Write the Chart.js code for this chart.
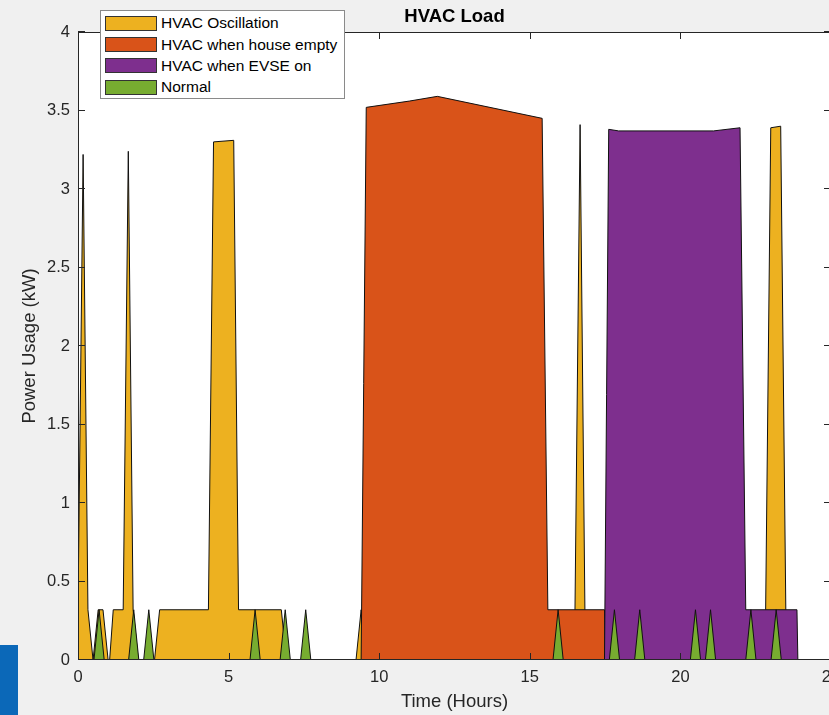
<!DOCTYPE html>
<html>
<head>
<meta charset="utf-8">
<script src="https://cdn.jsdelivr.net/npm/chart.js@4.4.0/dist/chart.umd.min.js"></script>
<style>
  body { margin: 0; background: #f0f0f0; overflow: hidden; }
  #wrap { position: relative; width: 840px; height: 715px; }
  #legend {
    position: absolute; left: 100px; top: 10px; width: 245px; height: 89px;
    box-sizing: border-box; padding-top: 1.7px;
    background: #fff; border: 1px solid #8a8a8a;
    font: 15.5px "Liberation Sans", Arial, Helvetica, sans-serif; color: #000;
  }
  #legend .row { height: 21.3px; display: flex; align-items: center; white-space: nowrap; }
  #legend .sw { width: 52px; height: 15px; margin: 0 4px 0 4px; border: 1px solid #333; box-sizing: border-box; }
  #blue { position: absolute; left: 0; top: 645px; width: 18px; height: 70px; background: #0b68b8; }
</style>
</head>
<body>
<div id="wrap">
  <canvas id="c" width="840" height="715"></canvas>
  <div id="legend"></div>
  <div id="blue"></div>
</div>
<script>
// HVAC load, hours vs kW
const yellowX = [0, 0.17, 0.33, 0.5, 0.67, 0.83, 1.0, 1.05, 1.17, 1.5, 1.67, 1.83, 2.0, 2.54, 2.71, 4.33, 4.5, 5.17, 5.33, 6.75, 6.92, 9.23, 9.4, 9.57, 16.33, 16.5, 16.67, 16.83, 17.0, 22.67, 22.83, 23.0, 23.33, 23.5, 23.67, 24];
const yellowY = [0.32, 3.22, 0.32, 0, 0.32, 0.32, 0, 0, 0.32, 0.32, 3.24, 0.32, 0, 0, 0.32, 0.32, 3.30, 3.31, 0.32, 0.32, 0, 0, 0.32, 0, 0, 0.32, 3.41, 0.32, 0, 0, 0.32, 3.39, 3.40, 0.32, 0, 0];

const orangeX = [0, 9.40, 9.57, 11.0, 11.93, 15.41, 15.6, 17.48, 17.5, 24];
const orangeY = [0, 0, 3.52, 3.56, 3.59, 3.45, 0.32, 0.32, 0, 0];

const purpleX = [0, 17.48, 17.62, 17.95, 21.1, 21.98, 22.17, 23.87, 23.9, 24];
const purpleY = [0, 0, 3.38, 3.37, 3.37, 3.39, 0.32, 0.32, 0, 0];

const normalX = [0, 0.53, 0.70, 0.87, 1.68, 1.85, 2.02, 2.18, 2.35, 2.52, 5.71, 5.88, 6.05, 6.71, 6.88, 7.05, 7.39, 7.56, 7.73,
  15.77, 15.94, 16.11, 17.64, 17.81, 17.98, 18.48, 18.65, 18.82, 20.33, 20.50, 20.67, 20.83, 21.00, 21.17,
  22.17, 22.34, 22.51, 23.01, 23.18, 23.35, 24];
const normalY = [0, 0, 0.32, 0, 0, 0.32, 0, 0, 0.32, 0, 0, 0.32, 0, 0, 0.32, 0, 0, 0.32, 0,
  0, 0.32, 0, 0, 0.32, 0, 0, 0.32, 0, 0, 0.32, 0, 0, 0.32, 0,
  0, 0.32, 0, 0, 0.32, 0, 0];

const seriesNames = ['HVAC Oscillation', 'HVAC when house empty', 'HVAC when EVSE on', 'Normal'];
const seriesColors = ['#EDB120', '#D95319', '#7E2F8E', '#77AC30'];

const xTickValues = [0, 5, 10, 15, 20, 25];
const xTickLabels = ['0', '5', '10', '15', '20', '25'];
const yTickValues = [0, 0.5, 1, 1.5, 2, 2.5, 3, 3.5, 4];
const yTickLabels = ['0', '0.5', '1', '1.5', '2', '2.5', '3', '3.5', '4'];

function pts(xs, ys) {
    return xs.map((x, i) => ({x: x, y: ys[i]}));
}

Chart.defaults.font.family = '"Liberation Sans", Arial, Helvetica, sans-serif';

const axesLook = {
    id: 'axesLook',
    beforeDraw(chart) {
        const {ctx, chartArea: a} = chart;
        ctx.save();
        ctx.fillStyle = '#fff';
        ctx.fillRect(a.left, a.top, a.right - a.left, a.bottom - a.top);
        ctx.restore();
    },
    afterDatasetsDraw(chart) {
        const {ctx, chartArea: a, scales} = chart;
        ctx.save();
        ctx.strokeStyle = '#262626';
        ctx.lineWidth = 1;
        ctx.beginPath();
        xTickValues.forEach(v => {
            const px = Math.round(scales.x.getPixelForValue(v)) + 0.5;
            ctx.moveTo(px, a.bottom); ctx.lineTo(px, a.bottom - 7);
            ctx.moveTo(px, a.top); ctx.lineTo(px, a.top + 7);
        });
        yTickValues.forEach(v => {
            const py = Math.round(scales.y.getPixelForValue(v)) - 0.5;
            ctx.moveTo(a.left, py); ctx.lineTo(a.left + 7, py);
            ctx.moveTo(a.right, py); ctx.lineTo(a.right - 7, py);
        });
        ctx.stroke();
        ctx.strokeRect(a.left + 0.5, a.top + 0.5, a.right - a.left - 1, a.bottom - a.top - 1);
        // title
        ctx.fillStyle = '#000';
        ctx.font = 'bold 18.5px "Liberation Sans", Arial, Helvetica, sans-serif';
        ctx.textAlign = 'center';
        ctx.textBaseline = 'middle';
        ctx.fillText('HVAC Load', (a.left + a.right) / 2, 16.5);
        ctx.restore();
    }
};

const xs = [yellowX, orangeX, purpleX, normalX];
const ys = [yellowY, orangeY, purpleY, normalY];

const chart = new Chart(document.getElementById('c'), {
    type: 'line',
    data: {
        datasets: seriesNames.map((name, i) => ({
            label: name,
            data: pts(xs[i], ys[i]),
            backgroundColor: seriesColors[i],
            borderColor: '#111',
            borderWidth: 1,
            pointRadius: 0,
            tension: 0,
            fill: 'origin',
            order: 4 - i
        }))
    },
    options: {
        responsive: false,
        animation: false,
        events: [],
        layout: { padding: { left: 0, right: 9, top: 32, bottom: 0 } },
        scales: {
            x: {
                type: 'linear',
                min: 0,
                max: 25,
                grid: { display: false, drawTicks: false },
                border: { display: false },
                afterBuildTicks: s => { s.ticks = xTickValues.map(v => ({value: v})); },
                afterFit: s => { s.height = 55; s.paddingLeft = 0; s.paddingRight = 0; },
                ticks: {
                    padding: 8,
                    color: '#262626',
                    font: { size: 16.5 },
                    maxRotation: 0,
                    callback: (v, i) => xTickLabels[i]
                },
                title: {
                    display: true,
                    text: 'Time (Hours)',
                    color: '#262626',
                    font: { size: 18.5 },
                    padding: { top: 0, bottom: 2 }
                }
            },
            y: {
                min: 0,
                max: 4,
                grid: { display: false, drawTicks: false },
                border: { display: false },
                afterBuildTicks: s => { s.ticks = yTickValues.map(v => ({value: v})); },
                afterFit: s => { s.width = 78; },
                ticks: {
                    padding: 8,
                    color: '#262626',
                    font: { size: 16.5 },
                    callback: (v, i) => yTickLabels[i]
                },
                title: {
                    display: true,
                    text: 'Power Usage (kW)',
                    color: '#262626',
                    font: { size: 18.5 },
                    padding: { top: 19, bottom: 0 }
                }
            }
        },
        plugins: {
            legend: { display: false },
            tooltip: { enabled: false },
            title: { display: false }
        }
    },
    plugins: [axesLook]
});

const legendBox = document.getElementById('legend');
chart.data.datasets.forEach(ds => {
    const row = document.createElement('div');
    row.className = 'row';
    const sw = document.createElement('span');
    sw.className = 'sw';
    sw.style.background = ds.backgroundColor;
    const txt = document.createElement('span');
    txt.textContent = ds.label;
    row.append(sw, txt);
    legendBox.append(row);
});
</script>
</body>
</html>
